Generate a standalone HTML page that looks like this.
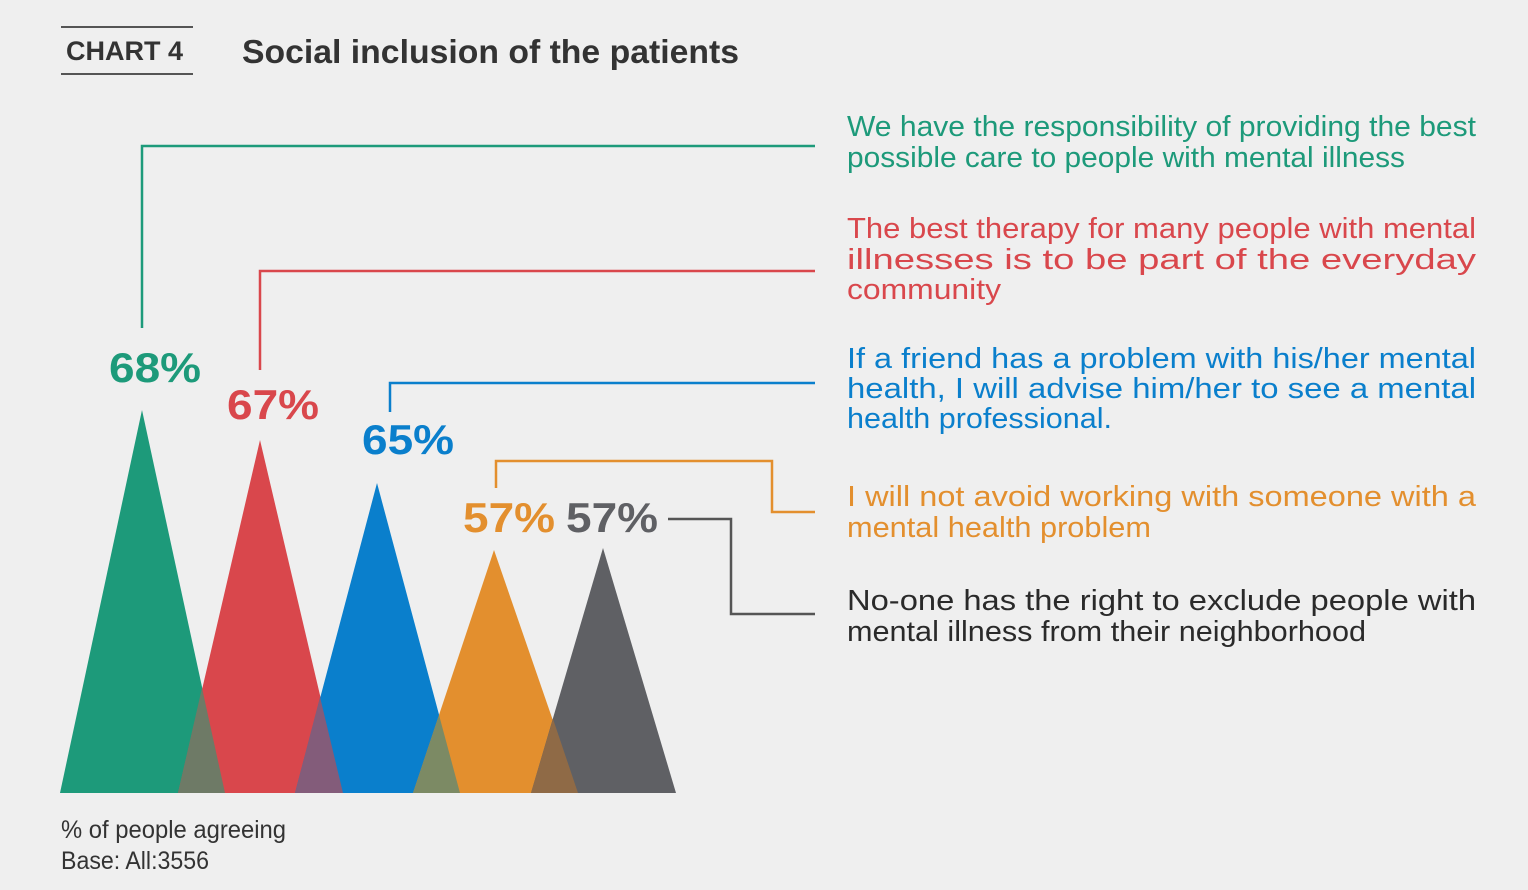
<!DOCTYPE html>
<html><head><meta charset="utf-8"><style>
html,body{margin:0;padding:0;background:#efefef;}
svg{display:block;}
text{font-family:"Liberation Sans",sans-serif;}
</style></head><body>
<svg width="1528" height="890" viewBox="0 0 1528 890" xmlns="http://www.w3.org/2000/svg">
<rect width="1528" height="890" fill="#efefef"/>
<line x1="61" y1="27" x2="193" y2="27" stroke="#555" stroke-width="2"/>
<line x1="61" y1="74" x2="193" y2="74" stroke="#555" stroke-width="2"/>
<text x="66" y="60" font-size="27" font-weight="bold" fill="#333" textLength="117" lengthAdjust="spacingAndGlyphs">CHART 4</text>
<text x="242" y="63" font-size="33" font-weight="bold" fill="#333" textLength="497" lengthAdjust="spacingAndGlyphs">Social inclusion of the patients</text>

<!-- connector lines -->
<polyline points="142,328 142,146 815,146" fill="none" stroke="#1d9a7a" stroke-width="2.5"/>
<polyline points="260,370 260,271 815,271" fill="none" stroke="#d9474c" stroke-width="2.5"/>
<polyline points="390,412 390,383 815,383" fill="none" stroke="#0a7fcc" stroke-width="2.5"/>
<polyline points="496,488 496,461 772,461 772,512 815,512" fill="none" stroke="#e38f2e" stroke-width="2.5"/>
<polyline points="668,519 731,519 731,614 815,614" fill="none" stroke="#555" stroke-width="2.5"/>

<!-- triangles -->
<polygon points="142,410 60,793 225,793" fill="#1d9a7a"/>
<polygon points="260,440 178,793 343,793" fill="#d9474c"/>
<polygon points="377,483 295,793 460,793" fill="#0a7fcc"/>
<polygon points="494,550 413,793 578,793" fill="#e38f2e"/>
<polygon points="603,548 531,793 676,793" fill="#5f6064"/>
<polygon points="202,688 178,793 225,793" fill="#6e7a66"/>
<polygon points="320,697 295,793 343,793" fill="#835c7a"/>
<polygon points="439,715 413,793 460,793" fill="#7c8a64"/>
<polygon points="553,719 531,793 578,793" fill="#8f6a46"/>

<!-- percentages -->
<g font-size="42" font-weight="bold">
<text x="109" y="382" fill="#1d9a7a" textLength="92" lengthAdjust="spacingAndGlyphs">68%</text>
<text x="227" y="419" fill="#d9474c" textLength="92" lengthAdjust="spacingAndGlyphs">67%</text>
<text x="362" y="454" fill="#0a7fcc" textLength="92" lengthAdjust="spacingAndGlyphs">65%</text>
<text x="463" y="532" fill="#e38f2e" textLength="92" lengthAdjust="spacingAndGlyphs">57%</text>
<text x="566" y="532" fill="#5f6064" textLength="92" lengthAdjust="spacingAndGlyphs">57%</text>
</g>

<!-- statements -->
<g font-size="29" lengthAdjust="spacingAndGlyphs">
<text x="847" y="136" fill="#1d9a7a" textLength="629" lengthAdjust="spacingAndGlyphs">We have the responsibility of providing the best</text>
<text x="847" y="167" fill="#1d9a7a" textLength="558" lengthAdjust="spacingAndGlyphs">possible care to people with mental illness</text>

<text x="847" y="238" fill="#d9474c" textLength="629" lengthAdjust="spacingAndGlyphs">The best therapy for many people with mental</text>
<text x="847" y="269" fill="#d9474c" textLength="629" lengthAdjust="spacingAndGlyphs">illnesses is to be part of the everyday</text>
<text x="847" y="299" fill="#d9474c" textLength="154" lengthAdjust="spacingAndGlyphs">community</text>

<text x="847" y="368" fill="#0a7fcc" textLength="629" lengthAdjust="spacingAndGlyphs">If a friend has a problem with his/her mental</text>
<text x="847" y="398" fill="#0a7fcc" textLength="629" lengthAdjust="spacingAndGlyphs">health, I will advise him/her to see a mental</text>
<text x="847" y="428" fill="#0a7fcc" textLength="265" lengthAdjust="spacingAndGlyphs">health professional.</text>

<text x="847" y="506" fill="#e38f2e" textLength="629" lengthAdjust="spacingAndGlyphs">I will not avoid working with someone with a</text>
<text x="847" y="537" fill="#e38f2e" textLength="304" lengthAdjust="spacingAndGlyphs">mental health problem</text>

<text x="847" y="610" fill="#2a2a2a" textLength="629" lengthAdjust="spacingAndGlyphs">No-one has the right to exclude people with</text>
<text x="847" y="641" fill="#2a2a2a" textLength="519" lengthAdjust="spacingAndGlyphs">mental illness from their neighborhood</text>
</g>

<text x="61" y="838" font-size="25" fill="#333" textLength="225" lengthAdjust="spacingAndGlyphs">% of people agreeing</text>
<text x="61" y="869" font-size="25" fill="#333" textLength="148" lengthAdjust="spacingAndGlyphs">Base: All:3556</text>
</svg>
</body></html>
